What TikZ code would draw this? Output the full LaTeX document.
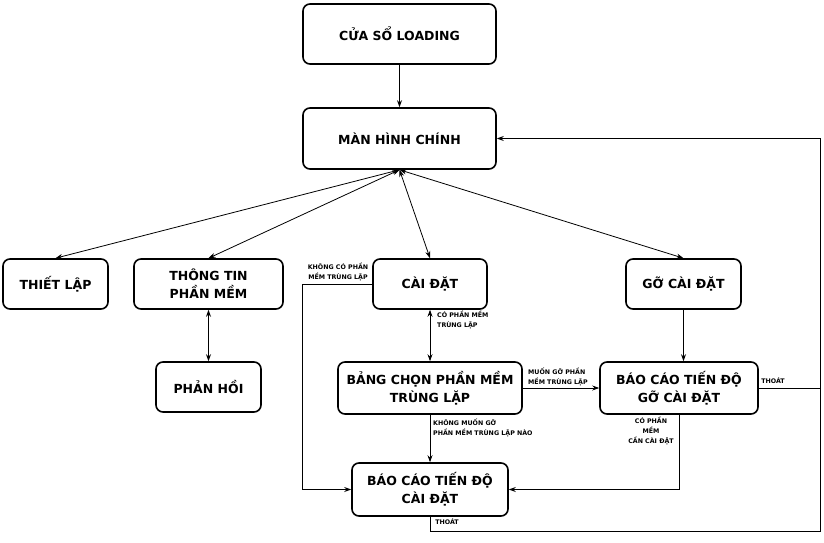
\documentclass[tikz,border=0pt]{standalone}
\usepackage{fontspec}
\setmainfont{DejaVu Sans}
\usetikzlibrary{arrows.meta}

\begin{document}
\begin{tikzpicture}[x=1pt, y=-1pt,
    screen/.style={draw, line width=1.6pt, rounded corners=7pt, inner sep=0pt, align=center,
        font=\fontsize{12.5}{18}\selectfont\bfseries},
    note/.style={inner sep=0pt, font=\fontsize{6.3}{9.8}\selectfont\bfseries},
    link/.style={line width=0.8pt, -{Stealth[length=7pt, width=5pt]}},
    both/.style={link, {Stealth[length=7pt, width=5pt]}-{Stealth[length=7pt, width=5pt]}}]
    \useasboundingbox[fill=white] (0,0) rectangle (824,543);

    \node[screen, minimum width=193pt, minimum height=60pt] (loading) at (399.5, 34) {CỬA SỔ LOADING};
    \node[screen, minimum width=193pt, minimum height=61pt] (main-screen) at (399.5, 138.5) {MÀN HÌNH CHÍNH};

    \node[screen, minimum width=105pt, minimum height=50pt] (settings) at (55.5, 284) {THIẾT LẬP};
    \node[screen, minimum width=149pt, minimum height=50pt] (info) at (208.5, 284) {THÔNG TIN\\PHẦN MỀM};
    \node[screen, minimum width=114pt, minimum height=50pt] (install) at (430, 284) {CÀI ĐẶT};
    \node[screen, minimum width=115pt, minimum height=50pt] (uninstall) at (683.5, 284) {GỠ CÀI ĐẶT};

    \node[screen, minimum width=105pt, minimum height=50pt] (feedback) at (208.5, 387) {PHẢN HỒI};
    \node[screen, minimum width=184pt, minimum height=52pt] (dup-table) at (430, 388) {BẢNG CHỌN PHẦN MỀM\\TRÙNG LẶP};
    \node[screen, minimum width=158pt, minimum height=52pt] (uninstall-report) at (679, 388) {BÁO CÁO TIẾN ĐỘ\\GỠ CÀI ĐẶT};
    \node[screen, minimum width=156pt, minimum height=53pt] (install-report) at (430, 489.5) {BÁO CÁO TIẾN ĐỘ\\CÀI ĐẶT};

    \coordinate (rail) at (820, 0);

    \draw[link] (loading) -- (main-screen);
    \draw[both] (main-screen.south) -- (settings.north);
    \draw[both] (main-screen.south) -- (info.north);
    \draw[both] (main-screen.south) -- (install.north);
    \draw[both] (main-screen.south) -- (uninstall.north);
    \draw[both] (info) -- (feedback);
    \draw[both] (install) -- (dup-table);
    \draw[link] (uninstall) -- (uninstall.south |- uninstall-report.north);
    \draw[link] (install.west) -- ++(-70,0) |- (install-report.west);
    \draw[link] (dup-table) -- (uninstall-report);
    \draw[link] (dup-table) -- (install-report);
    \draw[link] (uninstall-report.south) |- (install-report.east);
    \draw[link] (uninstall-report.east) -- (uninstall-report.east -| rail) -- (main-screen.east -| rail) -- (main-screen.east);
    \draw[line width=0.8pt] (install-report.south) -- ++(0,15) -| (uninstall-report.east -| rail);

    % connector labels
    \node[note, align=center] (no-dup) at (338, 272) {KHÔNG CÓ PHẦN\\MỀM TRÙNG LẶP};
    \node[note, align=left, anchor=west] (has-dup) at (437, 320) {CÓ PHẦN MỀM\\TRÙNG LẶP};
    \node[note, align=left, anchor=west] (want-remove) at (528, 377) {MUỐN GỠ PHẦN\\MỀM TRÙNG LẶP};
    \node[note, align=left, anchor=west] (keep-all) at (433, 427.5) {KHÔNG MUỐN GỠ\\PHẦN MỀM TRÙNG LẶP NÀO};
    \node[note, align=center] (need-install) at (651, 431) {CÓ PHẦN\\MỀM\\CẦN CÀI ĐẶT};
    \node[note] (exit-remove) at (773, 381) {THOÁT};
    \node[note] (exit-install) at (447, 522) {THOÁT};
\end{tikzpicture}
\end{document}
